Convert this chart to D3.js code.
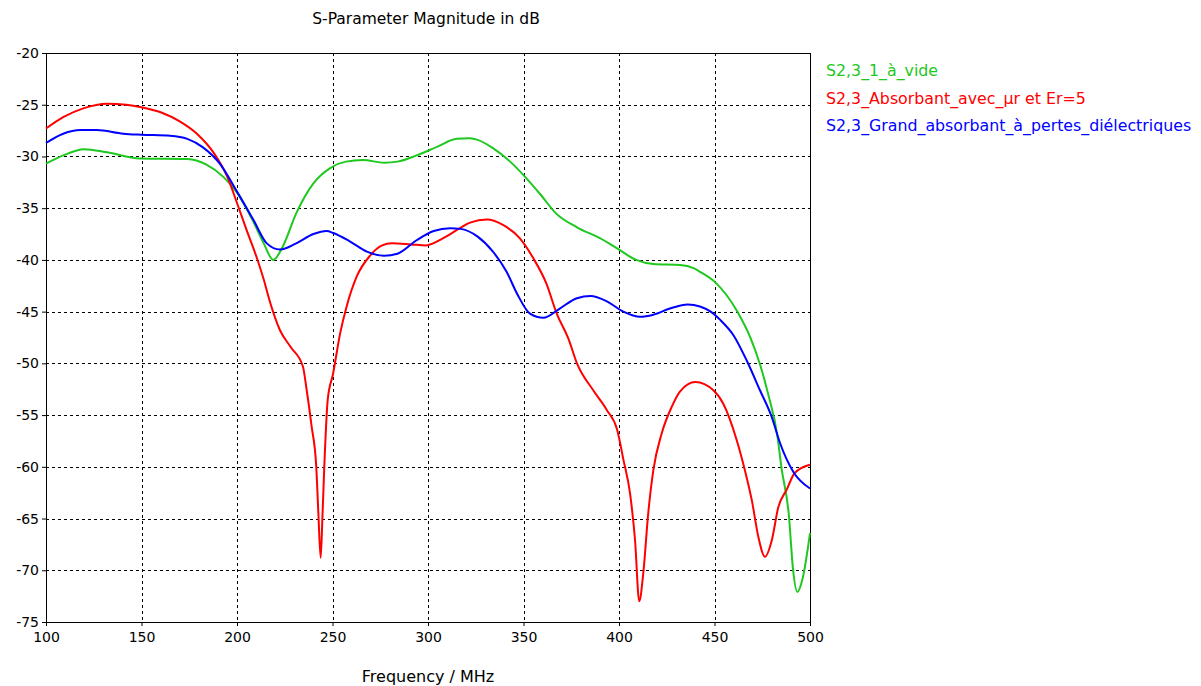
<!DOCTYPE html>
<html>
<head>
<meta charset="utf-8">
<script src="https://cdn.jsdelivr.net/npm/d3@7"></script>
<style>
  body { margin: 0; background: #fff; }
  text { font-family: Tahoma, "DejaVu Sans", Verdana, sans-serif; }
</style>
</head>
<body>
<svg id="chart" width="1201" height="686"></svg>
<script>
// Series: frequency (MHz) / magnitude (dB)
const freqVide = [100, 109, 120, 132, 149, 174, 184, 193, 200, 208, 214, 219, 224, 231, 240, 249, 257, 266, 277, 284, 294, 305, 315, 322, 326, 334, 343, 350, 359, 367, 378, 390, 400, 409, 418, 432, 439, 442, 450, 462, 469, 474, 478, 483, 485, 489, 491, 493.4, 496, 500];
const dbVide = [-30.7, -29.9, -29.3, -29.6, -30.2, -30.25, -30.8, -32, -33.5, -36.1, -38.4, -40, -38.7, -35.5, -32.6, -31.1, -30.5, -30.35, -30.6, -30.5, -29.9, -29.05, -28.3, -28.25, -28.4, -29.2, -30.5, -31.8, -33.7, -35.5, -36.85, -37.9, -39, -40, -40.4, -40.5, -40.8, -41.1, -42.1, -45, -47.6, -50.2, -52.9, -57.1, -60, -64.8, -69.7, -72.1, -70.9, -66.4];

const freqAbs = [100, 109, 119.5, 132, 142, 150, 161, 170, 179, 188, 195, 200, 205, 210, 214, 217, 222.5, 228, 234.5, 236.5, 239, 241.5, 242.6, 243.8, 244.7, 245.7, 247.5, 250.3, 254, 257.4, 262.7, 269.6, 276, 281, 291, 299, 308, 317, 322, 331, 339, 348, 355, 362, 367.4, 373.5, 378, 386.5, 393.6, 399, 402.3, 405.8, 408.4, 410.6, 412.7, 415.3, 418, 422.3, 427.6, 432, 440, 449.4, 454.6, 461.6, 466.8, 469.5, 473, 476.4, 480, 483.4, 487.8, 492, 500];
const dbAbs = [-27.3, -26.2, -25.35, -24.9, -25.0, -25.25, -25.8, -26.6, -27.8, -29.7, -32, -34.5, -37.1, -39.6, -41.9, -43.9, -46.8, -48.4, -50.3, -52.6, -56, -60, -64.5, -68.8, -65, -60, -53.5, -51, -47.1, -44.5, -41.6, -39.6, -38.6, -38.4, -38.5, -38.6, -37.9, -36.9, -36.4, -36.1, -36.6, -37.9, -39.8, -42.3, -45.2, -47.6, -50, -52.6, -54.5, -56.4, -59.3, -62.6, -67.1, -73, -70.3, -64.5, -60.3, -56.8, -54.2, -52.7, -51.8, -52.6, -53.9, -57.4, -61, -63.2, -66.8, -68.7, -67.1, -63.9, -62.2, -60.6, -59.8];

const freqGrand = [100, 109, 118, 126.5, 140.5, 150, 165, 174, 182, 191, 200, 208.5, 215.6, 222.5, 231, 240, 247, 250.4, 259, 268, 277, 284, 294, 303, 311.5, 317, 326, 334, 341, 347, 353.4, 360.4, 369, 378, 385, 393.6, 402.3, 411, 418, 426.7, 436, 442.4, 448, 453, 460, 466.8, 473.8, 480, 484.3, 491.3, 500];
const dbGrand = [-28.7, -27.8, -27.45, -27.45, -27.8, -27.9, -28.0, -28.3, -29.1, -30.7, -33.4, -36.1, -38.4, -39, -38.4, -37.5, -37.2, -37.4, -38.2, -39.2, -39.6, -39.4, -38.1, -37.2, -36.95, -37.0, -37.75, -39.2, -41.1, -43.4, -45.2, -45.6, -44.7, -43.7, -43.5, -44.0, -45, -45.5, -45.3, -44.7, -44.3, -44.5, -45, -45.8, -47.3, -49.7, -52.6, -55.2, -57.7, -60.5, -62.1];

const seriesNames = ["S2,3_1_à_vide", "S2,3_Absorbant_avec_µr et Er=5", "S2,3_Grand_absorbant_à_pertes_diélectriques"];
const seriesColors = ["#1ec81e", "#ff0000", "#0000ff"];

const xTicks = [100, 150, 200, 250, 300, 350, 400, 450, 500];
const yTicks = [-20, -25, -30, -35, -40, -45, -50, -55, -60, -65, -70, -75];

const margin = {left: 46, top: 53, right: 391, bottom: 64};
const width = 1201 - margin.left - margin.right;
const height = 686 - margin.top - margin.bottom;

const svg = d3.select("#chart");
const g = svg.append("g").attr("transform", `translate(${margin.left},${margin.top})`);

const x = d3.scaleLinear().domain([100, 500]).range([0, width]);
const y = d3.scaleLinear().domain([-75, -20]).range([height, 0]);

// Grid lines
g.append("g")
  .selectAll("line")
  .data(xTicks.slice(1, -1))
  .join("line")
  .attr("x1", d => Math.round(x(d)) + 0.5)
  .attr("x2", d => Math.round(x(d)) + 0.5)
  .attr("y1", 0)
  .attr("y2", height)
  .attr("stroke", "#000")
  .attr("stroke-dasharray", "3,3");

g.append("g")
  .selectAll("line")
  .data(yTicks.slice(1, -1))
  .join("line")
  .attr("y1", d => Math.round(y(d)) + 0.5)
  .attr("y2", d => Math.round(y(d)) + 0.5)
  .attr("x1", 0)
  .attr("x2", width)
  .attr("stroke", "#000")
  .attr("stroke-dasharray", "3,3");

// Axes (plain hyphen for negative numbers, like the original)
const xAxis = d3.axisBottom(x).tickValues(xTicks).tickFormat(d => String(d)).tickSize(4).tickPadding(6);
const yAxis = d3.axisLeft(y).tickValues(yTicks).tickFormat(d => String(d)).tickSize(4).tickPadding(3);

g.append("g")
  .attr("transform", `translate(0,${height})`)
  .call(xAxis)
  .call(a => a.select(".domain").remove())
  .call(a => a.selectAll("text").attr("font-size", 14).attr("fill", "#000").attr("font-family", "Tahoma, 'DejaVu Sans', sans-serif"));

g.append("g")
  .call(yAxis)
  .call(a => a.select(".domain").remove())
  .call(a => a.selectAll("text").attr("font-size", 14).attr("fill", "#000").attr("font-family", "Tahoma, 'DejaVu Sans', sans-serif"));

// Frame
g.append("rect")
  .attr("x", 0.5)
  .attr("y", 0.5)
  .attr("width", width)
  .attr("height", height)
  .attr("fill", "none")
  .attr("stroke", "#000")
  .attr("stroke-width", 1);

// Curves
const allSeries = [
  {f: freqVide, v: dbVide},
  {f: freqAbs, v: dbAbs},
  {f: freqGrand, v: dbGrand}
];

const line = d3.line()
  .x(d => x(d[0]))
  .y(d => y(d[1]))
  .curve(d3.curveMonotoneX);

g.append("g")
  .selectAll("path")
  .data(allSeries)
  .join("path")
  .attr("d", s => line(s.f.map((f, i) => [f, s.v[i]])))
  .attr("fill", "none")
  .attr("stroke", (s, i) => seriesColors[i])
  .attr("stroke-width", 2)
  .attr("stroke-linejoin", "round");

// Title and axis label
svg.append("text")
  .attr("x", 426)
  .attr("y", 24)
  .attr("text-anchor", "middle")
  .attr("font-size", 15.5)
  .text("S-Parameter Magnitude in dB");

svg.append("text")
  .attr("x", 428)
  .attr("y", 682)
  .attr("text-anchor", "middle")
  .attr("font-size", 16)
  .text("Frequency / MHz");

// Legend
svg.append("g")
  .selectAll("text")
  .data(seriesNames)
  .join("text")
  .attr("x", 826)
  .attr("y", (d, i) => 76 + i * 27.5)
  .attr("font-size", 15.8)
  .attr("fill", (d, i) => seriesColors[i])
  .text(d => d);
</script>
</body>
</html>
